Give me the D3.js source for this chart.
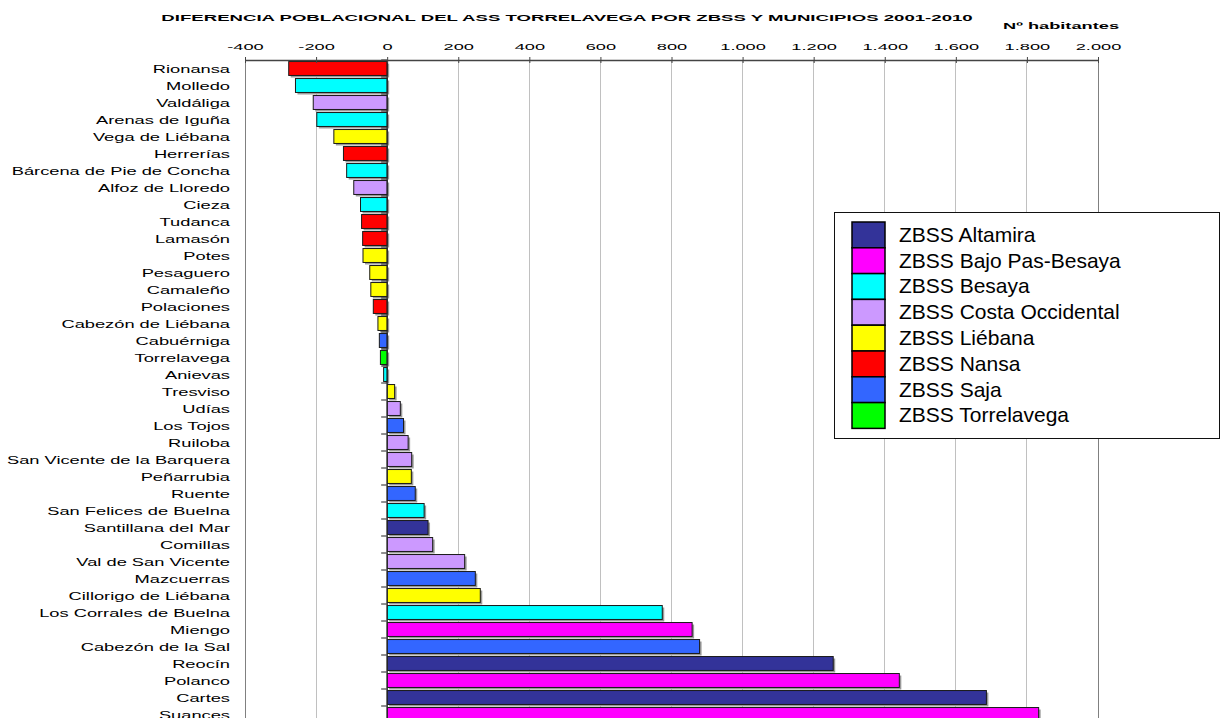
<!DOCTYPE html>
<html>
<head>
<meta charset="utf-8">
<script src="https://cdn.jsdelivr.net/npm/d3@7"></script>
<style>
  html, body { margin: 0; padding: 0; background: #fff; }
  svg { display: block; }
  text { font-family: "Liberation Sans", Arial, sans-serif; fill: #000; }
</style>
</head>
<body>
<svg id="chart" width="1221" height="718"></svg>
<script>
// Municipalities, sorted by population change 2001-2010
const categories = [
  "Rionansa", "Molledo", "Valdáliga", "Arenas de Iguña", "Vega de Liébana",
  "Herrerías", "Bárcena de Pie de Concha", "Alfoz de Lloredo", "Cieza", "Tudanca",
  "Lamasón", "Potes", "Pesaguero", "Camaleño", "Polaciones",
  "Cabezón de Liébana", "Cabuérniga", "Torrelavega", "Anievas", "Tresviso",
  "Udías", "Los Tojos", "Ruiloba", "San Vicente de la Barquera", "Peñarrubia",
  "Ruente", "San Felices de Buelna", "Santillana del Mar", "Comillas", "Val de San Vicente",
  "Mazcuerras", "Cillorigo de Liébana", "Los Corrales de Buelna", "Miengo", "Cabezón de la Sal",
  "Reocín", "Polanco", "Cartes", "Suances"
];

// Difference in inhabitants 2001-2010
const values = [
  -277, -258, -208, -198, -150,
  -123, -114, -94, -75, -72,
  -69, -68, -49, -46, -39,
  -26, -22, -19, -10, 21,
  37, 46, 59, 69, 68,
  79, 104, 115, 128, 218,
  248, 262, 774, 858, 879,
  1255, 1441, 1686, 1833
];

// Health zone (ZBSS) of each municipality
const zones = [
  "ZBSS Nansa", "ZBSS Besaya", "ZBSS Costa Occidental", "ZBSS Besaya", "ZBSS Liébana",
  "ZBSS Nansa", "ZBSS Besaya", "ZBSS Costa Occidental", "ZBSS Besaya", "ZBSS Nansa",
  "ZBSS Nansa", "ZBSS Liébana", "ZBSS Liébana", "ZBSS Liébana", "ZBSS Nansa",
  "ZBSS Liébana", "ZBSS Saja", "ZBSS Torrelavega", "ZBSS Besaya", "ZBSS Liébana",
  "ZBSS Costa Occidental", "ZBSS Saja", "ZBSS Costa Occidental", "ZBSS Costa Occidental", "ZBSS Liébana",
  "ZBSS Saja", "ZBSS Besaya", "ZBSS Altamira", "ZBSS Costa Occidental", "ZBSS Costa Occidental",
  "ZBSS Saja", "ZBSS Liébana", "ZBSS Besaya", "ZBSS Bajo Pas-Besaya", "ZBSS Saja",
  "ZBSS Altamira", "ZBSS Bajo Pas-Besaya", "ZBSS Altamira", "ZBSS Bajo Pas-Besaya"
];

const zoneNames = [
  "ZBSS Altamira", "ZBSS Bajo Pas-Besaya", "ZBSS Besaya", "ZBSS Costa Occidental",
  "ZBSS Liébana", "ZBSS Nansa", "ZBSS Saja", "ZBSS Torrelavega"
];
const zoneColors = [
  "#333399", "#ff00ff", "#00ffff", "#cc99ff",
  "#ffff00", "#ff0000", "#3366ff", "#00ff00"
];

const xTicks = [-400, -200, 0, 200, 400, 600, 800, 1000, 1200, 1400, 1600, 1800, 2000];
const titleText = "DIFERENCIA POBLACIONAL DEL ASS TORRELAVEGA POR ZBSS Y MUNICIPIOS 2001-2010";
const unitText = "Nº habitantes";

// Layout
const plot = { left: 245, right: 1098, top: 60, bottom: 723 };
const SX = 1.92; // horizontal stretch of the chart lettering

const svg = d3.select("#chart");

const x = d3.scaleLinear().domain([-400, 2000]).range([plot.left, plot.right]);
const y = d3.scaleBand().domain(categories).range([plot.top, plot.bottom])
  .paddingInner(0.18).paddingOuter(0.09);
const color = d3.scaleOrdinal().domain(zoneNames).range(zoneColors);

const es = d3.formatLocale({ decimal: ",", thousands: ".", grouping: [3], currency: ["", " €"], minus: "-" });
const fmt = es.format(",d");

// Vertical gridlines
svg.append("g").selectAll("line").data(xTicks).join("line")
  .attr("x1", d => x(d)).attr("x2", d => x(d))
  .attr("y1", plot.top).attr("y2", plot.bottom)
  .attr("stroke", "#c0c0c0").attr("stroke-width", 1)
  .attr("shape-rendering", "crispEdges");

// Plot frame sides
svg.append("g").selectAll("line").data([-400, 2000]).join("line")
  .attr("x1", d => x(d)).attr("x2", d => x(d))
  .attr("y1", plot.top).attr("y2", plot.bottom)
  .attr("stroke", "#808080").attr("stroke-width", 1)
  .attr("shape-rendering", "crispEdges");

// Bars with drop shadow
const bars = svg.append("g");
const rows = categories.map((c, i) => ({ c, v: values[i], z: zones[i] }));
bars.selectAll("rect.shadow").data(rows).join("rect")
  .attr("class", "shadow")
  .attr("x", d => Math.min(x(0), x(d.v)) + 2)
  .attr("y", d => y(d.c) + 2)
  .attr("width", d => Math.abs(x(d.v) - x(0)))
  .attr("height", y.bandwidth())
  .attr("fill", "#9a9a9a");
bars.selectAll("rect.bar").data(rows).join("rect")
  .attr("class", "bar")
  .attr("x", d => Math.min(x(0), x(d.v)))
  .attr("y", d => y(d.c))
  .attr("width", d => Math.abs(x(d.v) - x(0)))
  .attr("height", y.bandwidth())
  .attr("fill", d => color(d.z))
  .attr("stroke", "#1a1a1a").attr("stroke-width", 1);

// Zero axis with category tick marks at band boundaries
const zeroG = svg.append("g");
zeroG.append("line")
  .attr("x1", x(0)).attr("x2", x(0))
  .attr("y1", plot.top).attr("y2", plot.bottom)
  .attr("stroke", "#222").attr("stroke-width", 1.2);
const bounds = d3.range(categories.length + 1).map(i => plot.top + i * y.step());
zeroG.selectAll("line.tk").data(bounds).join("line")
  .attr("class", "tk")
  .attr("x1", x(0) - 6).attr("x2", x(0))
  .attr("y1", d => d).attr("y2", d => d)
  .attr("stroke", "#222").attr("stroke-width", 1);

// Category labels (left side of the plot)
svg.append("g").selectAll("text").data(categories).join("text")
  .attr("transform", d => `translate(230,${y(d) + y.bandwidth() / 2 + 4}) scale(1.74,1)`)
  .attr("text-anchor", "end")
  .attr("font-size", 10.5)
  .text(d => d);

// Top value axis
const xAxis = d3.axisTop(x).tickValues(xTicks).tickFormat(fmt).tickSizeInner(3).tickSizeOuter(0);
const axG = svg.append("g").attr("transform", `translate(0,${plot.top})`).call(xAxis);
axG.select(".domain").attr("stroke", "#444").attr("stroke-width", 1.3);
axG.selectAll(".tick line").attr("y1", 3).attr("y2", -3).attr("stroke", "#444");
axG.selectAll(".tick text")
  .attr("y", -10).attr("dy", 0)
  .attr("font-size", 9.5)
  .attr("font-family", "'Liberation Sans', Arial, sans-serif")
  .attr("fill", "#000")
  .attr("transform", `scale(${SX},1)`);

// Title and unit
svg.append("text")
  .attr("transform", `translate(567,21) scale(1.96,1)`)
  .attr("text-anchor", "middle")
  .attr("font-size", 9.5).attr("font-weight", "bold")
  .text(titleText);
svg.append("text")
  .attr("transform", `translate(1003,29) scale(${SX},1)`)
  .attr("text-anchor", "start")
  .attr("font-size", 9.5).attr("font-weight", "bold")
  .text(unitText);

// Legend
const leg = { x: 834, y: 212, w: 385, h: 226, sw: 33, sx: 852, sy: 222, rowH: 25.8 };
const lg = svg.append("g");
lg.append("rect")
  .attr("x", leg.x + 0.5).attr("y", leg.y + 0.5)
  .attr("width", leg.w).attr("height", leg.h)
  .attr("fill", "#fff").attr("stroke", "#111").attr("stroke-width", 1);
const items = lg.selectAll("g.item").data(zoneNames).join("g")
  .attr("class", "item")
  .attr("transform", (d, i) => `translate(${leg.sx},${leg.sy + i * leg.rowH})`);
items.append("rect")
  .attr("width", leg.sw).attr("height", leg.rowH)
  .attr("fill", d => color(d))
  .attr("stroke", "#000").attr("stroke-width", 1.5);
items.append("text")
  .attr("x", 47).attr("y", leg.rowH / 2 + 7)
  .attr("font-size", 21)
  .text(d => d);
</script>
</body>
</html>
